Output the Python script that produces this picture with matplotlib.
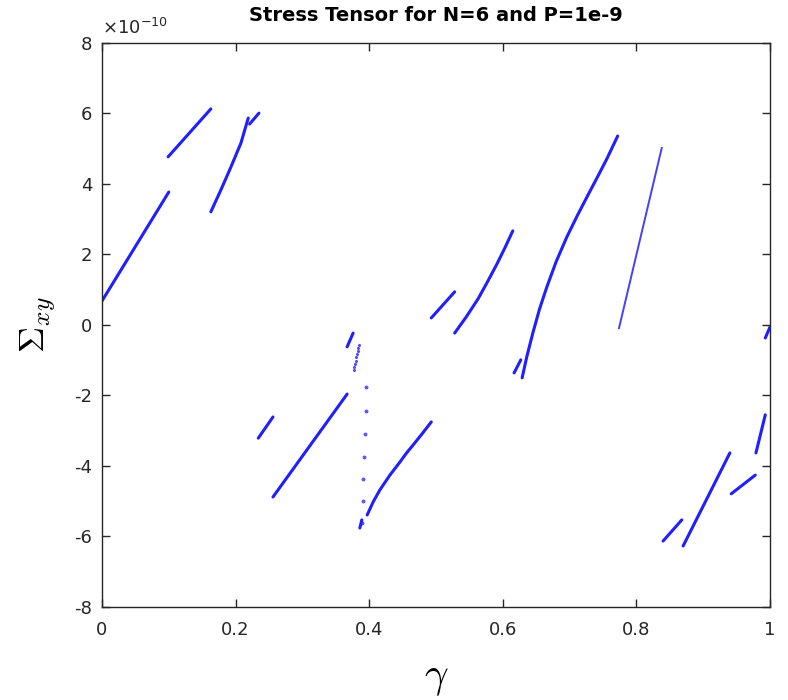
import numpy as np
import matplotlib
matplotlib.use('Agg')
import matplotlib.pyplot as plt

plt.rcParams['axes.unicode_minus'] = False
plt.rcParams['mathtext.fontset'] = 'cm'

# branches of the stress curve, gamma vs Sigma_xy (units of 1e-10)
branch_gamma = [
    [0.0, 0.100],
    [0.099, 0.163],
    [0.163, 0.178, 0.193, 0.208, 0.219],
    [0.221, 0.235],
    [0.234, 0.256],
    [0.256, 0.367],
    [0.367, 0.376],
    [0.386, 0.389],
    [0.397, 0.406, 0.416, 0.431, 0.446, 0.456, 0.466, 0.480, 0.493],
    [0.493, 0.528],
    [0.528, 0.545, 0.563, 0.577, 0.591, 0.603, 0.615],
    [0.617, 0.627],
    [0.629, 0.636, 0.645, 0.655, 0.666, 0.680, 0.696, 0.711, 0.726,
     0.741, 0.756, 0.772],
    [0.840, 0.868],
    [0.870, 0.940],
    [0.942, 0.978],
    [0.979, 0.993],
    [0.993, 1.0],
]
branch_sigma = [
    [0.68, 3.77],
    [4.77, 6.13],
    [3.21, 3.83, 4.48, 5.16, 5.87],
    [5.70, 6.01],
    [-3.21, -2.61],
    [-4.88, -1.96],
    [-0.62, -0.23],
    [-5.76, -5.53],
    [-5.39, -5.02, -4.68, -4.26, -3.89, -3.63, -3.40, -3.07, -2.75],
    [0.20, 0.94],
    [-0.23, 0.22, 0.74, 1.22, 1.72, 2.18, 2.67],
    [-1.36, -0.99],
    [-1.50, -0.90, -0.23, 0.45, 1.08, 1.80, 2.50, 3.08, 3.63,
     4.17, 4.72, 5.36],
    [-6.13, -5.53],
    [-6.27, -3.63],
    [-4.79, -4.26],
    [-3.63, -2.55],
    [-0.37, -0.06],
]

# thin branch
thin_gamma = [0.774, 0.838]
thin_sigma = [-0.09, 5.02]

# sparse points (jumps)
jump_gamma = [0.377, 0.378, 0.379, 0.380, 0.381, 0.382, 0.383, 0.384, 0.385]
jump_sigma = [-1.28, -1.19, -1.10, -1.01, -0.92, -0.83, -0.74, -0.65, -0.57]
drop_gamma = [0.395, 0.395, 0.394, 0.392, 0.391, 0.391, 0.389]
drop_sigma = [-1.76, -2.44, -3.09, -3.75, -4.37, -4.99, -5.62]

col = '#1f1fff'

fig = plt.figure(figsize=(7.88, 7.0), dpi=100)
ax = fig.add_axes([0.1294, 0.1329, 0.8477, 0.8057])

for g, s in zip(branch_gamma, branch_sigma):
    ax.plot(g, s, '-', color=col, lw=2.2, solid_capstyle='round',
            solid_joinstyle='round')
ax.plot(thin_gamma, thin_sigma, '-', color=col, lw=1.4, alpha=0.85)
ax.plot(jump_gamma, jump_sigma, 'o', color=col, ms=2.2, mec='none', alpha=0.8)
ax.plot(drop_gamma, drop_sigma, 'o', color=col, ms=2.8, mec='none', alpha=0.75)

ax.set_xlim(0, 1)
ax.set_ylim(-8, 8)
ax.set_xticks([0, 0.2, 0.4, 0.6, 0.8, 1])
ax.set_xticklabels(['0', '0.2', '0.4', '0.6', '0.8', '1'])
ax.set_yticks(np.arange(-8, 9, 2))
ax.set_yticklabels([str(v) for v in range(-8, 9, 2)])
ax.tick_params(direction='in', top=True, right=True, length=6, width=1,
               labelsize=13, colors='#262626')
ax.tick_params(axis='x', pad=10)
ax.tick_params(axis='y', pad=7)
for sp in ax.spines.values():
    sp.set_color('#262626')
    sp.set_linewidth(1.0)

ax.text(0.0, 1.008, r'$\mathregular{\times10^{-10}}$', transform=ax.transAxes,
        fontsize=13, color='#262626', ha='left', va='bottom')
ax.set_title('Stress Tensor for N=6 and P=1e-9', fontsize=14,
             fontweight='bold', pad=16)
ax.set_xlabel(r'$\gamma$', fontsize=30, labelpad=12)
ax.set_ylabel(r'$\Sigma_{xy}$', fontsize=26, labelpad=12)

fig.savefig('out.png', dpi=100)
